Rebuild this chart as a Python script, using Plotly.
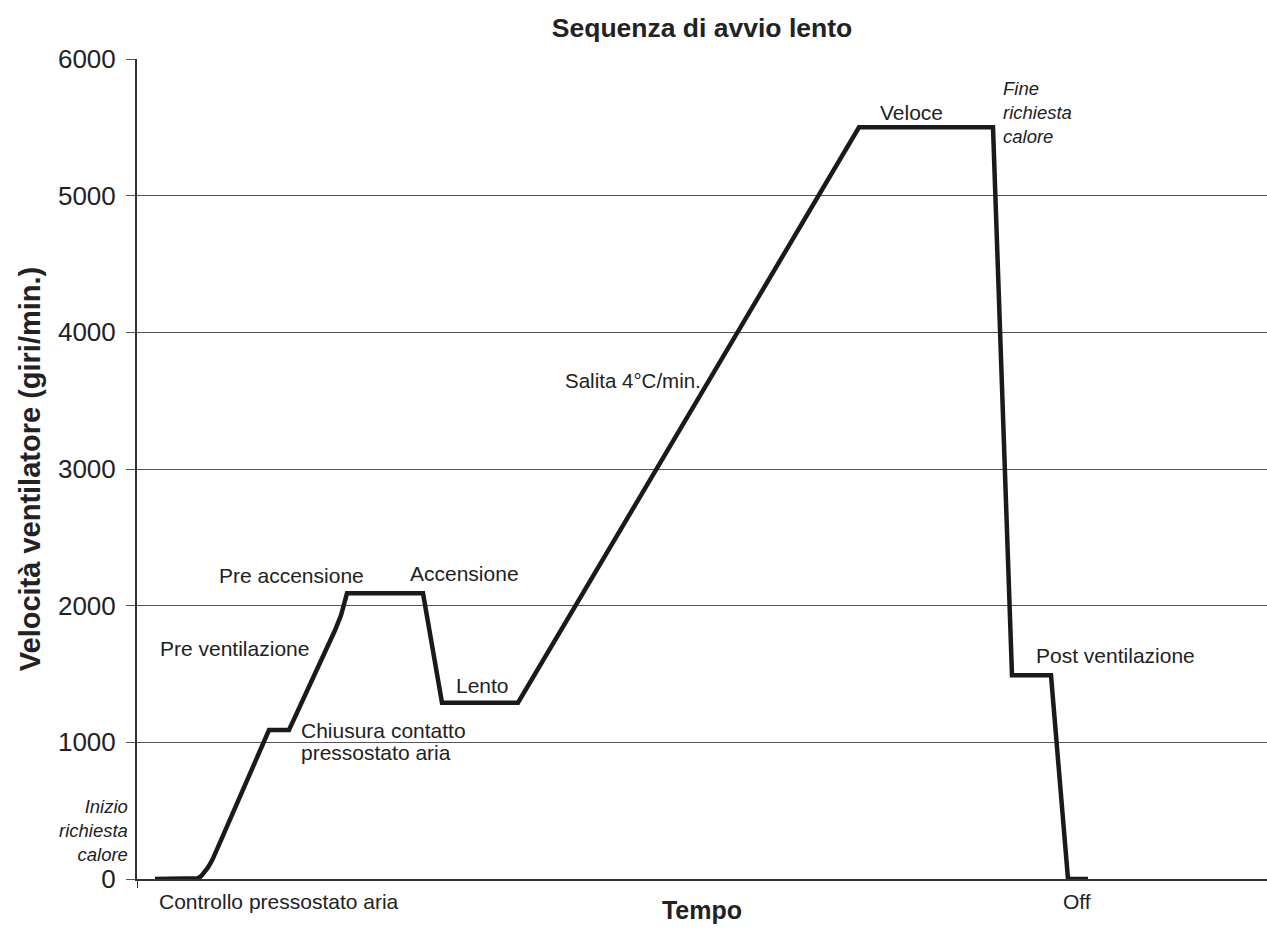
import plotly.graph_objects as go

# Time (arbitrary units) and fan speed (rpm)
time_pts = [18, 58, 61, 64, 67, 71, 75, 79, 132, 152, 198, 204, 210, 286, 305, 381, 722, 856, 875, 914, 931, 951]
speed_pts = [0, 0, 6, 20, 45, 85, 135, 200, 1090, 1090, 1820, 1930, 2090, 2090, 1290, 1290, 5500, 5500, 1490, 1490, 0, 0]

y_ticks = [0, 1000, 2000, 3000, 4000, 5000, 6000]
X_RANGE = [0, 1130]
Y_RANGE = [0, 6000]

# Labels: (text, time, speed, xanchor, italic, size)
labels = [
    ("Veloce", 774, 5605, "center", False, 21),
    ("Salita 4°C/min.", 426, 3651, "left", False, 20.5),
    ("Pre accensione", 154, 2224, "center", False, 21),
    ("Accensione", 327, 2239, "center", False, 21),
    ("Pre ventilazione", 97, 1690, "center", False, 21),
    ("Lento", 345, 1419, "center", False, 21),
    ("Chiusura contatto", 162, 1083, "left", False, 21),
    ("pressostato aria", 162, 929, "left", False, 21),
    ("Post ventilazione", 897, 1639, "left", False, 21),
    ("Controllo pressostato aria", 20, -168, "left", False, 21),
    ("Off", 940, -161, "center", False, 21),
    ("Inizio<br>richiesta<br>calore", -7, 358, "right", True, 18.5),
    ("Fine<br>richiesta<br>calore", 864, 5612, "left", True, 18.5),
]

FONT = "Liberation Sans, Arial, Helvetica, sans-serif"
TXT = "#222222"

fig = go.Figure()
fig.add_trace(go.Scatter(
    x=time_pts, y=speed_pts, mode="lines",
    line=dict(color="#1a1a1a", width=4.5),
    hoverinfo="skip", showlegend=False, cliponaxis=False,
))

def px(t):
    return (t - X_RANGE[0]) / (X_RANGE[1] - X_RANGE[0])

def py(v):
    return (v - Y_RANGE[0]) / (Y_RANGE[1] - Y_RANGE[0])

annotations = []
for text, t, v, xa, it, sz in labels:
    annotations.append(dict(
        x=px(t), y=py(v), xref="paper", yref="paper",
        text=(f"<i>{text}</i>" if it else text),
        showarrow=False, xanchor=xa, yanchor="middle", align=xa if xa != "center" else "center",
        font=dict(family=FONT, size=sz, color=TXT),
    ))

fig.update_layout(
    width=1267, height=936,
    margin=dict(l=137, r=0, t=59, b=57),
    paper_bgcolor="white", plot_bgcolor="white",
    title=dict(text="<b>Sequenza di avvio lento</b>", x=(137 + 1267) / 2 / 1267, xanchor="center",
               y=1 - 28 / 936, yanchor="middle",
               font=dict(family=FONT, size=26.5, color=TXT)),
    xaxis=dict(range=X_RANGE, showticklabels=False, ticks="", showgrid=False,
               zeroline=False, showline=True, linecolor="#333333", linewidth=2,
               title=dict(text="<b>Tempo</b>", font=dict(family=FONT, size=25, color=TXT),
                          standoff=21)),
    yaxis=dict(range=Y_RANGE, tickvals=y_ticks, ticks="outside", ticklen=9,
               tickcolor="#555555", tickwidth=1, showgrid=True, gridcolor="#555555",
               gridwidth=1, zeroline=False, showline=True, linecolor="#333333", linewidth=2,
               ticklabelstandoff=5,
               tickfont=dict(family=FONT, size=26, color=TXT),
               title=dict(text="<b>Velocità ventilatore (giri/min.)</b>",
                          font=dict(family=FONT, size=29, color=TXT), standoff=9)),
    annotations=annotations,
    shapes=[dict(type="line", xref="x", yref="paper", x0=0, x1=0, y0=0, y1=-0.011,
                 line=dict(color="#333333", width=2))],
)

fig.write_html("out.html", config={"displayModeBar": False},
               post_script="document.body.style.margin='0px';document.body.style.overflow='hidden';")
